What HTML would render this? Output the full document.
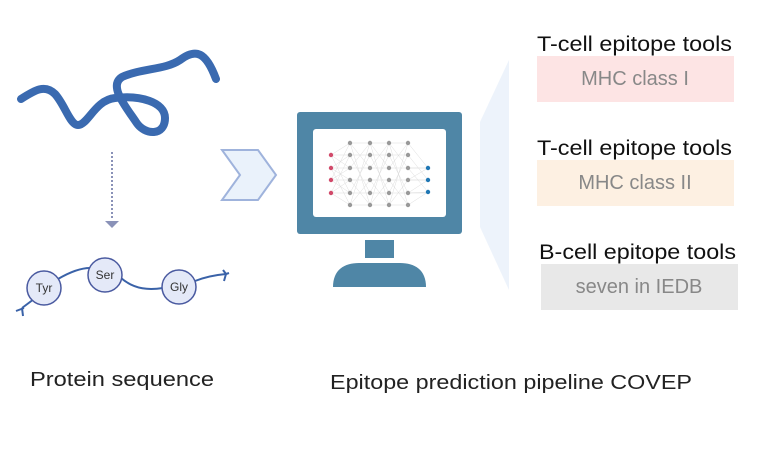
<!DOCTYPE html>
<html><head><meta charset="utf-8"><style>
html,body{margin:0;padding:0;background:#fff;}
svg{display:block;font-family:"Liberation Sans",sans-serif;}
</style></head><body>
<svg width="759" height="450" viewBox="0 0 759 450" xmlns="http://www.w3.org/2000/svg">
<rect width="759" height="450" fill="#fff"/>
<path d="M21,99 C35,90 45,84 55,94 C65,105 70,125 78,125 C88,125 95,100 115,98 C140,95 165,102 165,118 C165,136 145,136 136,122 C126,107 108,86 122,77 C142,68 165,70 180,60 C196,48 206,52 216,79" fill="none" stroke="#3a6ab0" stroke-width="8" stroke-linecap="round" stroke-linejoin="round"/>
<line x1="112" y1="152" x2="112" y2="218" stroke="#8a92b8" stroke-width="2" stroke-dasharray="2,2"/>
<polygon points="105,221 119,221 112,228" fill="#8a92b8"/>
<g fill="none" stroke="#3a62a8" stroke-width="2">
<path d="M22,308 L34,299"/>
<path d="M16,311 L24,308 M22,308 L23,316"/>
<path d="M58,279 C70,272 80,268 90,268"/>
<path d="M121,278 C135,290 150,290 163,288"/>
<path d="M195,281 C205,277 215,275 226,274"/>
<path d="M223,270 L226,274 L224,281 M226,274 L229,273"/>
</g>
<g fill="#e4e9f8" stroke="#4a5aa0" stroke-width="1.5">
<circle cx="44" cy="288" r="17"/>
<circle cx="105" cy="275" r="17"/>
<circle cx="179" cy="287" r="17"/>
</g>
<g font-size="12" fill="#333" text-anchor="middle">
<text x="44" y="292">Tyr</text>
<text x="105" y="279">Ser</text>
<text x="179" y="291">Gly</text>
</g>
<polygon points="222,150 258,150 276,175 258,200 222,200 240,175" fill="#eaf2fb" stroke="#9fb3dc" stroke-width="2"/>
<rect x="297" y="112" width="165" height="122" rx="3" fill="#4f86a6"/>
<rect x="313" y="129" width="133" height="88" rx="3" fill="#fff"/>
<rect x="365" y="240" width="29" height="18" fill="#4f86a6"/>
<path d="M333,287 L426,287 C426,270 415,263 400,263 L359,263 C344,263 333,270 333,287 Z" fill="#4f86a6"/>
<g stroke="#ddd" stroke-width="0.5">
<path d="M331,155L350,143M331,155L350,168M331,155L350,193M331,168L350,155M331,168L350,180M331,168L350,205M331,180L350,143M331,180L350,168M331,180L350,193M331,193L350,155M331,193L350,180M331,193L350,205"/>
<path d="M350,143L370,168M350,155L370,193M350,168L370,143M350,180L370,205M350,193L370,155M350,205L370,180M350,143L370,205M350,205L370,143"/>
<path d="M370,143L389,168M370,155L389,193M370,168L389,143M370,180L389,205M370,193L389,155M370,205L389,180M370,143L389,205M370,205L389,143"/>
<path d="M389,143L408,168M389,155L408,193M389,168L408,143M389,180L408,205M389,193L408,155M389,205L408,180M389,143L408,205M389,205L408,143"/>
<path d="M408,143L428,168M408,155L428,180M408,168L428,192M408,180L428,168M408,193L428,180M408,205L428,192M408,168L428,168M408,180L428,180M408,193L428,192"/>
<path d="M331,155H408M331,168H428M331,180H428M331,193H428M350,143H408M350,205H408"/>
</g>
<g fill="#d14a6a"><circle cx="331" cy="155" r="2.2"/><circle cx="331" cy="168" r="2.2"/><circle cx="331" cy="180" r="2.2"/><circle cx="331" cy="193" r="2.2"/></g>
<g fill="#999">
<circle cx="350" cy="143" r="2.2"/><circle cx="350" cy="155" r="2.2"/><circle cx="350" cy="168" r="2.2"/><circle cx="350" cy="180" r="2.2"/><circle cx="350" cy="193" r="2.2"/><circle cx="350" cy="205" r="2.2"/>
<circle cx="370" cy="143" r="2.2"/><circle cx="370" cy="155" r="2.2"/><circle cx="370" cy="168" r="2.2"/><circle cx="370" cy="180" r="2.2"/><circle cx="370" cy="193" r="2.2"/><circle cx="370" cy="205" r="2.2"/>
<circle cx="389" cy="143" r="2.2"/><circle cx="389" cy="155" r="2.2"/><circle cx="389" cy="168" r="2.2"/><circle cx="389" cy="180" r="2.2"/><circle cx="389" cy="193" r="2.2"/><circle cx="389" cy="205" r="2.2"/>
<circle cx="408" cy="143" r="2.2"/><circle cx="408" cy="155" r="2.2"/><circle cx="408" cy="168" r="2.2"/><circle cx="408" cy="180" r="2.2"/><circle cx="408" cy="193" r="2.2"/><circle cx="408" cy="205" r="2.2"/>
</g>
<g fill="#1f77b4"><circle cx="428" cy="168" r="2.2"/><circle cx="428" cy="180" r="2.2"/><circle cx="428" cy="192" r="2.2"/></g>
<polygon points="509,60 480,122 480,227 509,290" fill="#edf3fb"/>
<rect x="537" y="56" width="197" height="46" fill="#fde4e4"/>
<rect x="537" y="160" width="197" height="46" fill="#fdf0e2"/>
<rect x="541" y="264" width="197" height="46" fill="#e8e8e8"/>
<g font-size="21" fill="#111">
<text x="537" y="51" textLength="195" lengthAdjust="spacingAndGlyphs">T-cell epitope tools</text>
<text x="537" y="155" textLength="195" lengthAdjust="spacingAndGlyphs">T-cell epitope tools</text>
<text x="539" y="259" textLength="197" lengthAdjust="spacingAndGlyphs">B-cell epitope tools</text>
</g>
<g font-size="20" fill="#888" text-anchor="middle">
<text x="635" y="85">MHC class I</text>
<text x="635" y="189">MHC class II</text>
<text x="639" y="293">seven in IEDB</text>
</g>
<g font-size="20" fill="#222">
<text x="30" y="386" textLength="184" lengthAdjust="spacingAndGlyphs">Protein sequence</text>
<text x="330" y="389" textLength="362" lengthAdjust="spacingAndGlyphs">Epitope prediction pipeline COVEP</text>
</g>
</svg>
</body></html>
